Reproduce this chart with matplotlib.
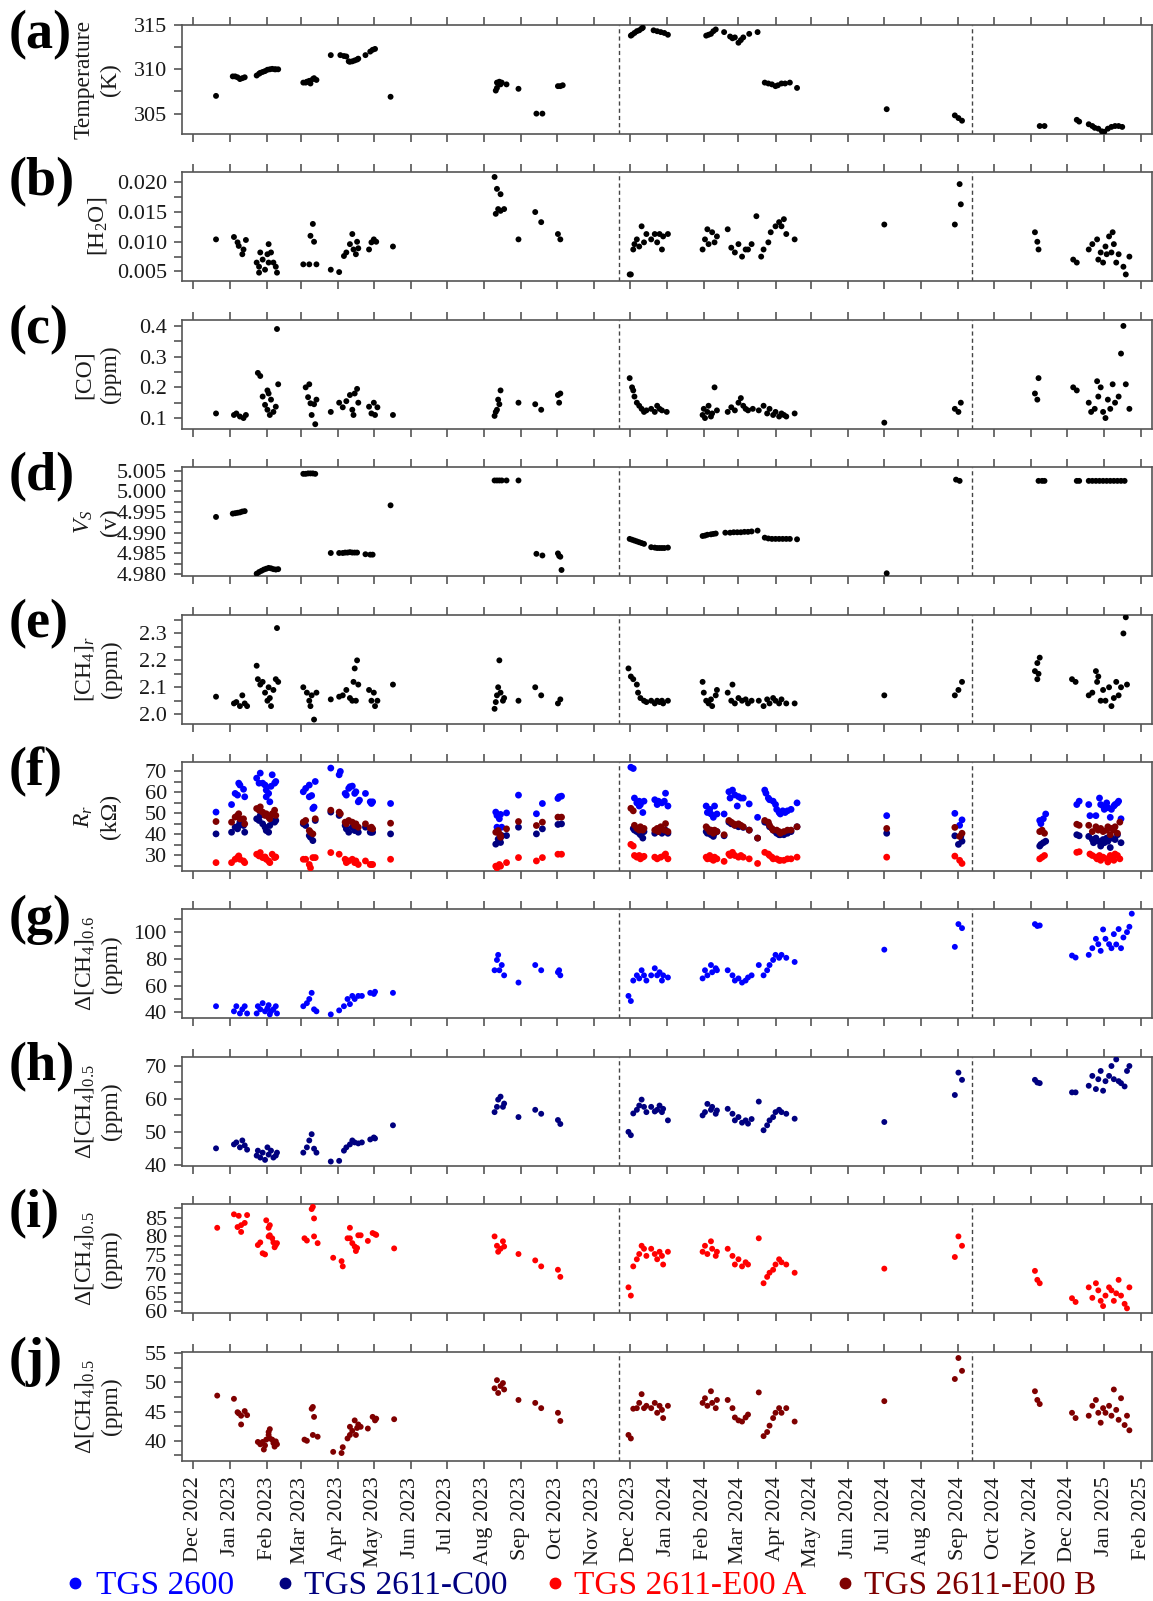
import matplotlib
matplotlib.use("Agg")
import matplotlib.pyplot as plt
import matplotlib.dates as mdates
import matplotlib.ticker as mticker
from matplotlib.lines import Line2D
from datetime import datetime

plt.rcParams['font.family'] = ['Liberation Serif', 'DejaVu Serif']
plt.rcParams['mathtext.fontset'] = 'custom'
plt.rcParams['mathtext.rm'] = 'Liberation Serif'
plt.rcParams['mathtext.it'] = 'Liberation Serif:italic'
plt.rcParams['mathtext.bf'] = 'Liberation Serif:bold'

# ---------------- data ----------------
TEMP = [
    ("2022-12-20", 307.0),
    ("2023-01-03", 309.2), ("2023-01-05", 309.2), ("2023-01-07", 309.1), ("2023-01-09", 308.9), ("2023-01-11", 309.0), ("2023-01-13", 309.1),
    ("2023-01-23", 309.3), ("2023-01-25", 309.5), ("2023-01-26", 309.6), ("2023-01-28", 309.7), ("2023-01-30", 309.8), ("2023-02-01", 309.95),
    ("2023-02-03", 310.0), ("2023-02-05", 310.05), ("2023-02-07", 310.0), ("2023-02-08", 310.0), ("2023-02-10", 310.0),
    ("2023-03-03", 308.5), ("2023-03-05", 308.5), ("2023-03-06", 308.6), ("2023-03-08", 308.7), ("2023-03-09", 308.4), ("2023-03-11", 308.9),
    ("2023-03-12", 309.0), ("2023-03-14", 308.8),
    ("2023-03-26", 311.6), ("2023-04-03", 311.6), ("2023-04-06", 311.5), ("2023-04-08", 311.45),
    ("2023-04-10", 310.9), ("2023-04-11", 310.85), ("2023-04-13", 310.9), ("2023-04-15", 311.0), ("2023-04-17", 311.1), ("2023-04-18", 311.2),
    ("2023-04-24", 311.6), ("2023-04-28", 312.0), ("2023-04-30", 312.2), ("2023-05-02", 312.3),
    ("2023-05-15", 306.9),
    ("2023-08-11", 307.6), ("2023-08-12", 307.9), ("2023-08-12", 308.5), ("2023-08-14", 308.6), ("2023-08-15", 308.3), ("2023-08-16", 308.5),
    ("2023-08-20", 308.3), ("2023-08-30", 307.8),
    ("2023-09-14", 305.0), ("2023-09-19", 305.0),
    ("2023-10-02", 308.1), ("2023-10-04", 308.1), ("2023-10-06", 308.2),
    ("2023-12-02", 313.8), ("2023-12-03", 313.9), ("2023-12-05", 314.1), ("2023-12-07", 314.3), ("2023-12-09", 314.4), ("2023-12-11", 314.6),
    ("2023-12-12", 314.7),
    ("2023-12-21", 314.4), ("2023-12-24", 314.3), ("2023-12-27", 314.2), ("2023-12-30", 314.1), ("2024-01-02", 313.9),
    ("2024-02-03", 313.8), ("2024-02-05", 313.9), ("2024-02-07", 314.0), ("2024-02-09", 314.3), ("2024-02-11", 314.5),
    ("2024-02-18", 314.2), ("2024-02-23", 313.7), ("2024-02-25", 313.5), ("2024-02-27", 313.6), ("2024-03-01", 313.0), ("2024-03-03", 313.3),
    ("2024-03-05", 313.6), ("2024-03-10", 314.0), ("2024-03-17", 314.2),
    ("2024-03-23", 308.5), ("2024-03-26", 308.4), ("2024-03-29", 308.3), ("2024-04-01", 308.1), ("2024-04-03", 308.2), ("2024-04-06", 308.4),
    ("2024-04-09", 308.4), ("2024-04-13", 308.5), ("2024-04-19", 307.9),
    ("2024-07-03", 305.5),
    ("2024-08-29", 304.8), ("2024-09-01", 304.5), ("2024-09-04", 304.2),
    ("2024-11-08", 303.6), ("2024-11-12", 303.6),
    ("2024-12-09", 304.3), ("2024-12-11", 304.1),
    ("2024-12-19", 303.8), ("2024-12-22", 303.6), ("2024-12-24", 303.4), ("2024-12-27", 303.3), ("2024-12-30", 303.0), ("2025-01-01", 302.95),
    ("2025-01-04", 303.3), ("2025-01-07", 303.5), ("2025-01-10", 303.6), ("2025-01-13", 303.6), ("2025-01-16", 303.5),
]

H2O = [
    ("2022-12-20", 0.0104),
    ("2023-01-04", 0.0108), ("2023-01-07", 0.0099), ("2023-01-08", 0.0093), ("2023-01-11", 0.0079), ("2023-01-12", 0.0087), ("2023-01-14", 0.0103),
    ("2023-01-23", 0.0065), ("2023-01-25", 0.0058), ("2023-01-25", 0.0048), ("2023-01-26", 0.0082), ("2023-01-28", 0.0070), ("2023-01-30", 0.0053),
    ("2023-02-01", 0.0079), ("2023-02-02", 0.0065), ("2023-02-02", 0.0096), ("2023-02-04", 0.0082), ("2023-02-06", 0.0065), ("2023-02-08", 0.0058),
    ("2023-02-09", 0.0048),
    ("2023-03-03", 0.0062), ("2023-03-08", 0.0062), ("2023-03-09", 0.0110), ("2023-03-11", 0.0130), ("2023-03-12", 0.0100), ("2023-03-14", 0.0062),
    ("2023-03-26", 0.0053), ("2023-04-02", 0.0049), ("2023-04-06", 0.0076), ("2023-04-08", 0.0082), ("2023-04-11", 0.0096), ("2023-04-13", 0.0113),
    ("2023-04-14", 0.0087), ("2023-04-16", 0.0079), ("2023-04-17", 0.0100), ("2023-04-18", 0.0089),
    ("2023-04-27", 0.0087), ("2023-04-29", 0.0099), ("2023-05-01", 0.0104), ("2023-05-03", 0.0100),
    ("2023-05-17", 0.0092),
    ("2023-08-10", 0.0209), ("2023-08-12", 0.0189), ("2023-08-15", 0.0180), ("2023-08-13", 0.0155), ("2023-08-11", 0.0147), ("2023-08-15", 0.0152),
    ("2023-08-18", 0.0155),
    ("2023-08-30", 0.0104),
    ("2023-09-13", 0.0150), ("2023-09-18", 0.0133),
    ("2023-10-02", 0.0113), ("2023-10-04", 0.0104),
    ("2023-12-01", 0.0045), ("2023-12-02", 0.0045), ("2023-12-04", 0.0087), ("2023-12-05", 0.0096), ("2023-12-07", 0.0104), ("2023-12-09", 0.0092),
    ("2023-12-11", 0.0126), ("2023-12-13", 0.0099), ("2023-12-15", 0.0113),
    ("2023-12-19", 0.0104), ("2023-12-22", 0.0113), ("2023-12-24", 0.0099), ("2023-12-26", 0.0113), ("2023-12-28", 0.0087), ("2023-12-29", 0.0109),
    ("2024-01-02", 0.0113),
    ("2024-01-31", 0.0087), ("2024-02-02", 0.0104), ("2024-02-04", 0.0121), ("2024-02-05", 0.0096), ("2024-02-08", 0.0116), ("2024-02-10", 0.0099),
    ("2024-02-12", 0.0109),
    ("2024-02-21", 0.0121), ("2024-02-24", 0.0090), ("2024-02-27", 0.0082), ("2024-03-01", 0.0096), ("2024-03-04", 0.0075), ("2024-03-07", 0.0087),
    ("2024-03-09", 0.0087), ("2024-03-12", 0.0096),
    ("2024-03-16", 0.0143), ("2024-03-20", 0.0075), ("2024-03-22", 0.0087), ("2024-03-26", 0.0099), ("2024-03-28", 0.0116), ("2024-04-01", 0.0126),
    ("2024-04-04", 0.0133), ("2024-04-06", 0.0126), ("2024-04-08", 0.0138), ("2024-04-10", 0.0113), ("2024-04-17", 0.0104),
    ("2024-07-01", 0.0129),
    ("2024-08-29", 0.0129), ("2024-09-02", 0.0197), ("2024-09-03", 0.0163),
    ("2024-11-04", 0.0116), ("2024-11-06", 0.0100), ("2024-11-07", 0.0087),
    ("2024-12-06", 0.0070), ("2024-12-09", 0.0065),
    ("2024-12-19", 0.0087), ("2024-12-22", 0.0096), ("2024-12-26", 0.0104), ("2024-12-27", 0.0070), ("2024-12-29", 0.0082), ("2024-12-31", 0.0065),
    ("2025-01-02", 0.0092), ("2025-01-03", 0.0079), ("2025-01-05", 0.0109), ("2025-01-07", 0.0082), ("2025-01-08", 0.0116), ("2025-01-09", 0.0096),
    ("2025-01-11", 0.0065), ("2025-01-13", 0.0079), ("2025-01-17", 0.0058), ("2025-01-19", 0.0045), ("2025-01-22", 0.0075),
]

CO = [
    ("2022-12-20", 0.115),
    ("2023-01-04", 0.110), ("2023-01-06", 0.115), ("2023-01-09", 0.105), ("2023-01-12", 0.100), ("2023-01-14", 0.110),
    ("2023-01-24", 0.247), ("2023-01-26", 0.237), ("2023-01-28", 0.170), ("2023-01-30", 0.143), ("2023-02-01", 0.190), ("2023-02-01", 0.127),
    ("2023-02-02", 0.180), ("2023-02-03", 0.110), ("2023-02-04", 0.160), ("2023-02-06", 0.120), ("2023-02-08", 0.137), ("2023-02-09", 0.390),
    ("2023-02-10", 0.210),
    ("2023-03-05", 0.200), ("2023-03-07", 0.168), ("2023-03-08", 0.210), ("2023-03-09", 0.148), ("2023-03-10", 0.110), ("2023-03-12", 0.145),
    ("2023-03-13", 0.080), ("2023-03-14", 0.160),
    ("2023-03-26", 0.120), ("2023-04-02", 0.150), ("2023-04-05", 0.135), ("2023-04-08", 0.155), ("2023-04-11", 0.175), ("2023-04-13", 0.127),
    ("2023-04-14", 0.110), ("2023-04-15", 0.180), ("2023-04-17", 0.195), ("2023-04-18", 0.150),
    ("2023-04-27", 0.137), ("2023-04-29", 0.115), ("2023-05-01", 0.150), ("2023-05-02", 0.110), ("2023-05-04", 0.135),
    ("2023-05-17", 0.110),
    ("2023-08-10", 0.107), ("2023-08-11", 0.120), ("2023-08-12", 0.127), ("2023-08-13", 0.160), ("2023-08-14", 0.145), ("2023-08-15", 0.190),
    ("2023-08-30", 0.150),
    ("2023-09-13", 0.145), ("2023-09-18", 0.127),
    ("2023-10-02", 0.175), ("2023-10-03", 0.150), ("2023-10-04", 0.180),
    ("2023-12-01", 0.230), ("2023-12-03", 0.200), ("2023-12-04", 0.190), ("2023-12-05", 0.170), ("2023-12-07", 0.150), ("2023-12-09", 0.140),
    ("2023-12-11", 0.130), ("2023-12-13", 0.120), ("2023-12-15", 0.125),
    ("2023-12-19", 0.130), ("2023-12-22", 0.120), ("2023-12-24", 0.140), ("2023-12-26", 0.130), ("2023-12-28", 0.125), ("2024-01-01", 0.120),
    ("2024-01-31", 0.110), ("2024-02-01", 0.130), ("2024-02-02", 0.100), ("2024-02-04", 0.120), ("2024-02-05", 0.140), ("2024-02-07", 0.105),
    ("2024-02-08", 0.115), ("2024-02-10", 0.200), ("2024-02-12", 0.125),
    ("2024-02-21", 0.120), ("2024-02-24", 0.135), ("2024-02-27", 0.125), ("2024-03-01", 0.150), ("2024-03-03", 0.165), ("2024-03-05", 0.140),
    ("2024-03-07", 0.130), ("2024-03-09", 0.125), ("2024-03-13", 0.130),
    ("2024-03-18", 0.125), ("2024-03-22", 0.140), ("2024-03-25", 0.115), ("2024-03-27", 0.130), ("2024-03-30", 0.110), ("2024-04-01", 0.120),
    ("2024-04-04", 0.105), ("2024-04-06", 0.115), ("2024-04-08", 0.110), ("2024-04-10", 0.105), ("2024-04-17", 0.115),
    ("2024-07-01", 0.085),
    ("2024-08-29", 0.130), ("2024-09-01", 0.120), ("2024-09-03", 0.150),
    ("2024-11-04", 0.180), ("2024-11-06", 0.160), ("2024-11-07", 0.230),
    ("2024-12-06", 0.200), ("2024-12-09", 0.190),
    ("2024-12-19", 0.150), ("2024-12-21", 0.120), ("2024-12-24", 0.130), ("2024-12-26", 0.220), ("2024-12-27", 0.170), ("2024-12-29", 0.200),
    ("2024-12-31", 0.120), ("2025-01-02", 0.100), ("2025-01-04", 0.160), ("2025-01-06", 0.130), ("2025-01-08", 0.210), ("2025-01-10", 0.150),
    ("2025-01-13", 0.170), ("2025-01-15", 0.310), ("2025-01-17", 0.400), ("2025-01-19", 0.210), ("2025-01-22", 0.130),
]

VS = [
    ("2022-12-20", 4.9938),
    ("2023-01-03", 4.9946), ("2023-01-05", 4.9947), ("2023-01-07", 4.9948), ("2023-01-09", 4.9949), ("2023-01-11", 4.9951), ("2023-01-13", 4.9952),
    ("2023-01-23", 4.9801), ("2023-01-25", 4.9805), ("2023-01-27", 4.9808), ("2023-01-29", 4.9811), ("2023-01-31", 4.9813), ("2023-02-02", 4.9815),
    ("2023-02-04", 4.9814), ("2023-02-06", 4.9812), ("2023-02-08", 4.9811), ("2023-02-10", 4.9812),
    ("2023-03-03", 5.0042), ("2023-03-05", 5.0042), ("2023-03-07", 5.0043), ("2023-03-09", 5.0043), ("2023-03-11", 5.0043), ("2023-03-13", 5.0042),
    ("2023-03-26", 4.9851),
    ("2023-04-02", 4.9851), ("2023-04-05", 4.9851), ("2023-04-07", 4.9852), ("2023-04-09", 4.9852), ("2023-04-11", 4.9853), ("2023-04-13", 4.9852),
    ("2023-04-15", 4.9852), ("2023-04-17", 4.9852),
    ("2023-04-24", 4.9848), ("2023-04-28", 4.9847), ("2023-04-30", 4.9847),
    ("2023-05-15", 4.9966),
    ("2023-08-10", 5.0026), ("2023-08-12", 5.0026), ("2023-08-14", 5.0026), ("2023-08-16", 5.0026), ("2023-08-20", 5.0026),
    ("2023-08-30", 5.0026),
    ("2023-09-14", 4.9849), ("2023-09-19", 4.9845),
    ("2023-10-02", 4.9850), ("2023-10-03", 4.9844), ("2023-10-04", 4.9842), ("2023-10-05", 4.9810),
    ("2023-12-01", 4.9885), ("2023-12-03", 4.9883), ("2023-12-05", 4.9881), ("2023-12-07", 4.9879), ("2023-12-09", 4.9877), ("2023-12-11", 4.9875),
    ("2023-12-13", 4.9873),
    ("2023-12-19", 4.9865), ("2023-12-22", 4.9864), ("2023-12-24", 4.9863), ("2023-12-26", 4.9863), ("2023-12-28", 4.9863), ("2023-12-30", 4.9863),
    ("2024-01-02", 4.9864),
    ("2024-01-31", 4.9892), ("2024-02-02", 4.9893), ("2024-02-04", 4.9895), ("2024-02-07", 4.9896), ("2024-02-09", 4.9897), ("2024-02-11", 4.9898),
    ("2024-02-19", 4.9900), ("2024-02-23", 4.9900), ("2024-02-26", 4.9901), ("2024-02-29", 4.9901), ("2024-03-03", 4.9901), ("2024-03-06", 4.9902),
    ("2024-03-09", 4.9902), ("2024-03-12", 4.9903), ("2024-03-17", 4.9905),
    ("2024-03-23", 4.9888), ("2024-03-26", 4.9886), ("2024-03-29", 4.9885), ("2024-04-01", 4.9885), ("2024-04-04", 4.9885), ("2024-04-07", 4.9885),
    ("2024-04-10", 4.9885), ("2024-04-13", 4.9885), ("2024-04-19", 4.9884),
    ("2024-07-03", 4.9802),
    ("2024-08-30", 5.0028), ("2024-09-02", 5.0025),
    ("2024-11-07", 5.0025), ("2024-11-10", 5.0025), ("2024-11-12", 5.0025),
    ("2024-12-09", 5.0025), ("2024-12-11", 5.0025),
    ("2024-12-19", 5.0025), ("2024-12-22", 5.0025), ("2024-12-25", 5.0025), ("2024-12-28", 5.0025), ("2024-12-31", 5.0025), ("2025-01-03", 5.0025),
    ("2025-01-06", 5.0025), ("2025-01-09", 5.0025), ("2025-01-12", 5.0025), ("2025-01-15", 5.0025), ("2025-01-18", 5.0025),
]

CH4R = [
    ("2022-12-20", 2.065),
    ("2023-01-04", 2.04), ("2023-01-06", 2.045), ("2023-01-09", 2.03), ("2023-01-11", 2.07), ("2023-01-13", 2.04), ("2023-01-15", 2.03),
    ("2023-01-23", 2.18), ("2023-01-24", 2.13), ("2023-01-26", 2.11), ("2023-01-28", 2.12), ("2023-01-30", 2.08), ("2023-02-01", 2.05),
    ("2023-02-02", 2.10), ("2023-02-03", 2.06), ("2023-02-04", 2.03), ("2023-02-06", 2.09), ("2023-02-08", 2.13), ("2023-02-09", 2.32),
    ("2023-02-10", 2.12),
    ("2023-03-03", 2.10), ("2023-03-06", 2.08), ("2023-03-08", 2.05), ("2023-03-09", 2.03), ("2023-03-10", 2.07), ("2023-03-12", 1.98),
    ("2023-03-14", 2.08),
    ("2023-03-26", 2.055), ("2023-04-02", 2.065), ("2023-04-05", 2.07), ("2023-04-08", 2.09), ("2023-04-11", 2.06), ("2023-04-13", 2.05),
    ("2023-04-14", 2.12), ("2023-04-15", 2.17), ("2023-04-16", 2.05), ("2023-04-17", 2.20), ("2023-04-18", 2.11),
    ("2023-04-27", 2.09), ("2023-04-29", 2.05), ("2023-05-01", 2.08), ("2023-05-02", 2.03), ("2023-05-04", 2.05),
    ("2023-05-17", 2.11),
    ("2023-08-10", 2.02), ("2023-08-11", 2.045), ("2023-08-12", 2.07), ("2023-08-13", 2.10), ("2023-08-14", 2.20), ("2023-08-15", 2.08),
    ("2023-08-17", 2.05), ("2023-08-18", 2.06),
    ("2023-08-30", 2.05),
    ("2023-09-13", 2.10), ("2023-09-18", 2.07),
    ("2023-10-02", 2.04), ("2023-10-04", 2.055),
    ("2023-11-30", 2.17), ("2023-12-02", 2.14), ("2023-12-04", 2.13), ("2023-12-07", 2.11), ("2023-12-08", 2.08), ("2023-12-10", 2.06),
    ("2023-12-13", 2.05), ("2023-12-15", 2.045),
    ("2023-12-19", 2.05), ("2023-12-22", 2.04), ("2023-12-24", 2.05), ("2023-12-26", 2.045), ("2023-12-28", 2.05), ("2023-12-29", 2.04),
    ("2024-01-02", 2.05),
    ("2024-01-31", 2.12), ("2024-02-01", 2.08), ("2024-02-03", 2.05), ("2024-02-05", 2.04), ("2024-02-07", 2.055), ("2024-02-08", 2.03),
    ("2024-02-11", 2.07), ("2024-02-12", 2.09),
    ("2024-02-21", 2.08), ("2024-02-24", 2.05), ("2024-02-25", 2.11), ("2024-02-27", 2.04), ("2024-03-01", 2.06), ("2024-03-04", 2.05),
    ("2024-03-07", 2.055), ("2024-03-09", 2.04), ("2024-03-12", 2.05),
    ("2024-03-18", 2.05), ("2024-03-22", 2.03), ("2024-03-25", 2.055), ("2024-03-27", 2.04), ("2024-03-30", 2.06), ("2024-04-01", 2.05),
    ("2024-04-04", 2.04), ("2024-04-06", 2.055), ("2024-04-10", 2.04), ("2024-04-17", 2.04),
    ("2024-07-01", 2.07),
    ("2024-08-29", 2.07), ("2024-09-01", 2.09), ("2024-09-04", 2.12),
    ("2024-11-04", 2.16), ("2024-11-06", 2.19), ("2024-11-06", 2.13), ("2024-11-07", 2.15), ("2024-11-08", 2.21),
    ("2024-12-05", 2.13), ("2024-12-08", 2.12),
    ("2024-12-19", 2.07), ("2024-12-22", 2.08), ("2024-12-25", 2.16), ("2024-12-26", 2.12), ("2024-12-27", 2.14), ("2024-12-29", 2.05),
    ("2024-12-31", 2.09), ("2025-01-02", 2.05), ("2025-01-05", 2.10), ("2025-01-07", 2.03), ("2025-01-09", 2.06), ("2025-01-11", 2.12),
    ("2025-01-13", 2.07), ("2025-01-15", 2.10), ("2025-01-17", 2.30), ("2025-01-19", 2.36), ("2025-01-20", 2.11),
]

R_2600 = [
    ("2022-12-20", 50.6),
    ("2023-01-02", 54.2), ("2023-01-05", 59.5), ("2023-01-07", 58.7), ("2023-01-08", 64.4), ("2023-01-09", 63.5), ("2023-01-12", 61.5),
    ("2023-01-13", 57.9),
    ("2023-01-23", 66.8), ("2023-01-25", 64.4), ("2023-01-26", 69.2), ("2023-01-28", 64.4), ("2023-01-30", 63.5), ("2023-01-31", 61.1),
    ("2023-01-31", 57.9), ("2023-02-02", 59.5), ("2023-02-03", 55.5), ("2023-02-04", 62.9), ("2023-02-05", 68.4), ("2023-02-07", 64.4),
    ("2023-02-08", 65.2),
    ("2023-03-03", 60.3), ("2023-03-05", 61.9), ("2023-03-08", 63.5), ("2023-03-08", 57.9), ("2023-03-10", 58.5), ("2023-03-11", 52.3),
    ("2023-03-12", 53.0), ("2023-03-13", 65.2),
    ("2023-03-26", 71.6), ("2023-04-02", 68.4), ("2023-04-03", 70.0), ("2023-04-07", 59.5), ("2023-04-08", 58.7), ("2023-04-10", 61.9),
    ("2023-04-11", 62.7), ("2023-04-13", 63.0), ("2023-04-15", 59.5), ("2023-04-16", 60.3), ("2023-04-18", 55.5), ("2023-04-19", 56.3),
    ("2023-04-24", 59.5), ("2023-04-28", 55.5), ("2023-04-29", 54.7), ("2023-04-30", 55.5),
    ("2023-05-15", 54.7),
    ("2023-08-11", 50.6), ("2023-08-12", 49.0), ("2023-08-12", 43.4), ("2023-08-14", 47.4), ("2023-08-15", 49.5), ("2023-08-16", 43.4),
    ("2023-08-20", 50.2),
    ("2023-08-30", 58.7),
    ("2023-09-14", 49.8), ("2023-09-19", 54.7),
    ("2023-10-02", 57.1), ("2023-10-03", 57.9), ("2023-10-05", 58.2),
    ("2023-12-02", 72.0), ("2023-12-04", 71.4),
    ("2023-12-05", 57.3), ("2023-12-07", 55.0), ("2023-12-09", 55.8), ("2023-12-09", 53.5), ("2023-12-10", 54.2), ("2023-12-12", 50.4),
    ("2023-12-13", 55.8),
    ("2023-12-22", 56.5), ("2023-12-24", 54.2), ("2023-12-25", 55.8), ("2023-12-28", 55.0), ("2023-12-30", 55.8), ("2023-12-31", 59.6),
    ("2024-01-02", 53.5),
    ("2024-02-03", 53.5), ("2024-02-04", 50.4), ("2024-02-06", 51.9), ("2024-02-07", 49.7), ("2024-02-09", 48.1), ("2024-02-10", 53.5),
    ("2024-02-12", 49.7),
    ("2024-02-18", 49.7), ("2024-02-22", 60.3), ("2024-02-23", 57.3), ("2024-02-25", 61.1), ("2024-02-27", 58.8), ("2024-02-29", 53.5),
    ("2024-03-01", 58.0), ("2024-03-03", 57.3), ("2024-03-05", 57.3), ("2024-03-10", 54.5),
    ("2024-03-17", 48.1), ("2024-03-23", 61.1), ("2024-03-24", 59.6), ("2024-03-26", 57.3), ("2024-03-27", 56.5), ("2024-03-30", 55.8),
    ("2024-04-01", 54.2), ("2024-04-02", 51.9), ("2024-04-04", 50.4), ("2024-04-05", 49.7), ("2024-04-07", 51.2), ("2024-04-09", 50.4),
    ("2024-04-11", 51.2), ("2024-04-14", 51.9), ("2024-04-19", 55.0),
    ("2024-07-03", 48.9),
    ("2024-08-29", 50.0), ("2024-09-02", 44.3), ("2024-09-04", 46.9),
    ("2024-11-08", 46.6), ("2024-11-09", 45.1), ("2024-11-11", 47.4), ("2024-11-13", 49.7),
    ("2024-12-09", 54.2), ("2024-12-11", 55.8),
    ("2024-12-19", 54.2), ("2024-12-20", 48.9), ("2024-12-25", 48.9), ("2024-12-28", 57.3), ("2024-12-29", 54.2), ("2024-12-31", 53.5),
    ("2025-01-01", 51.9), ("2025-01-03", 55.0), ("2025-01-04", 52.7), ("2025-01-06", 48.1), ("2025-01-07", 51.9), ("2025-01-09", 53.5),
    ("2025-01-10", 54.2), ("2025-01-12", 55.0), ("2025-01-13", 55.8), ("2025-01-15", 47.4),
]

R_2611C = [
    ("2022-12-20", 40.2),
    ("2023-01-02", 41.0), ("2023-01-05", 43.4), ("2023-01-07", 42.6), ("2023-01-08", 44.2), ("2023-01-09", 45.8), ("2023-01-12", 44.2),
    ("2023-01-13", 41.0),
    ("2023-01-23", 47.4), ("2023-01-25", 46.6), ("2023-01-26", 49.0), ("2023-01-28", 45.0), ("2023-01-30", 43.4), ("2023-01-31", 41.8),
    ("2023-02-02", 41.0), ("2023-02-03", 44.2), ("2023-02-05", 46.6), ("2023-02-07", 45.8), ("2023-02-08", 46.6),
    ("2023-03-03", 45.0), ("2023-03-05", 44.2), ("2023-03-08", 39.4), ("2023-03-09", 38.6), ("2023-03-11", 37.0), ("2023-03-13", 46.6),
    ("2023-03-26", 50.6), ("2023-04-02", 49.0), ("2023-04-07", 44.2), ("2023-04-08", 42.6), ("2023-04-10", 41.0), ("2023-04-13", 43.4),
    ("2023-04-15", 41.8), ("2023-04-16", 42.6), ("2023-04-18", 41.0),
    ("2023-04-24", 43.4), ("2023-04-28", 41.0), ("2023-04-29", 41.0), ("2023-04-30", 41.0),
    ("2023-05-15", 40.2),
    ("2023-08-11", 35.3), ("2023-08-13", 37.7), ("2023-08-15", 36.1), ("2023-08-15", 38.5), ("2023-08-16", 39.4), ("2023-08-20", 39.4),
    ("2023-08-30", 43.4),
    ("2023-09-14", 40.2), ("2023-09-19", 42.6),
    ("2023-10-02", 44.7), ("2023-10-05", 45.0),
    ("2023-12-04", 42.8), ("2023-12-05", 42.0), ("2023-12-07", 41.3), ("2023-12-09", 40.5), ("2023-12-10", 39.8), ("2023-12-12", 38.2),
    ("2023-12-13", 41.3),
    ("2023-12-22", 40.5), ("2023-12-24", 41.3), ("2023-12-25", 42.0), ("2023-12-28", 40.5), ("2023-12-30", 41.3), ("2023-12-31", 42.0),
    ("2024-01-02", 40.5),
    ("2024-02-03", 41.3), ("2024-02-04", 40.5), ("2024-02-06", 42.0), ("2024-02-07", 39.8), ("2024-02-09", 39.0), ("2024-02-10", 40.5),
    ("2024-02-12", 41.3),
    ("2024-02-18", 39.3), ("2024-02-22", 45.8), ("2024-02-24", 45.0), ("2024-02-27", 44.3), ("2024-03-01", 43.6), ("2024-03-05", 43.3),
    ("2024-03-10", 42.0),
    ("2024-03-17", 38.2), ("2024-03-23", 45.8), ("2024-03-26", 45.0), ("2024-03-27", 43.6), ("2024-03-30", 42.0), ("2024-04-01", 41.3),
    ("2024-04-02", 40.5), ("2024-04-04", 39.8), ("2024-04-05", 39.8), ("2024-04-08", 39.8), ("2024-04-11", 40.5), ("2024-04-14", 41.3),
    ("2024-04-19", 43.6),
    ("2024-07-03", 40.5),
    ("2024-08-29", 39.3), ("2024-09-01", 35.2), ("2024-09-03", 39.0), ("2024-09-04", 36.7),
    ("2024-11-08", 34.4), ("2024-11-09", 35.2), ("2024-11-11", 36.0), ("2024-11-13", 36.7),
    ("2024-12-09", 39.8), ("2024-12-11", 39.3),
    ("2024-12-19", 39.0), ("2024-12-22", 37.5), ("2024-12-23", 36.0), ("2024-12-25", 38.2), ("2024-12-27", 36.7), ("2024-12-29", 34.4),
    ("2024-12-31", 37.5), ("2025-01-01", 36.0), ("2025-01-03", 38.2), ("2025-01-04", 36.7), ("2025-01-06", 33.7), ("2025-01-07", 38.2),
    ("2025-01-10", 37.5), ("2025-01-12", 39.8), ("2025-01-15", 36.0),
]

R_2611EB = [
    ("2022-12-20", 46.1),
    ("2023-01-02", 45.8), ("2023-01-05", 48.2), ("2023-01-07", 49.0), ("2023-01-08", 49.8), ("2023-01-09", 47.4), ("2023-01-12", 47.4),
    ("2023-01-13", 45.0),
    ("2023-01-23", 52.3), ("2023-01-25", 51.5), ("2023-01-26", 53.1), ("2023-01-28", 50.6), ("2023-01-30", 49.0), ("2023-01-31", 49.8),
    ("2023-02-02", 48.2), ("2023-02-03", 47.4), ("2023-02-05", 49.8), ("2023-02-07", 51.5), ("2023-02-08", 49.0),
    ("2023-03-03", 45.8), ("2023-03-05", 46.6), ("2023-03-08", 41.8), ("2023-03-09", 41.0), ("2023-03-11", 40.2), ("2023-03-13", 47.4),
    ("2023-03-26", 51.5), ("2023-04-02", 50.6), ("2023-04-03", 49.8), ("2023-04-07", 45.8), ("2023-04-08", 45.0), ("2023-04-10", 46.6),
    ("2023-04-13", 45.8), ("2023-04-15", 44.2), ("2023-04-16", 45.0), ("2023-04-18", 43.4),
    ("2023-04-24", 45.0), ("2023-04-28", 43.0), ("2023-04-29", 43.4), ("2023-04-30", 42.6),
    ("2023-05-15", 45.3),
    ("2023-08-11", 41.0), ("2023-08-13", 41.8), ("2023-08-14", 40.2), ("2023-08-15", 39.4), ("2023-08-15", 38.6), ("2023-08-20", 42.6),
    ("2023-08-30", 46.1),
    ("2023-09-14", 44.2), ("2023-09-19", 45.8),
    ("2023-10-02", 48.2), ("2023-10-05", 48.2),
    ("2023-12-02", 52.4), ("2023-12-04", 51.2),
    ("2023-12-05", 44.3), ("2023-12-07", 42.8), ("2023-12-09", 42.0), ("2023-12-10", 43.6), ("2023-12-12", 42.0), ("2023-12-13", 42.8),
    ("2023-12-22", 42.0), ("2023-12-24", 42.8), ("2023-12-25", 41.3), ("2023-12-27", 43.6), ("2023-12-30", 42.0), ("2023-12-31", 45.1),
    ("2024-01-02", 41.3),
    ("2024-02-03", 43.6), ("2024-02-04", 42.8), ("2024-02-06", 41.3), ("2024-02-07", 42.0), ("2024-02-09", 40.5), ("2024-02-10", 42.0),
    ("2024-02-12", 41.3),
    ("2024-02-18", 39.8), ("2024-02-22", 46.6), ("2024-02-24", 45.8), ("2024-02-26", 45.0), ("2024-02-27", 44.3), ("2024-03-01", 45.0),
    ("2024-03-03", 44.3), ("2024-03-05", 43.6), ("2024-03-10", 42.0),
    ("2024-03-17", 38.2), ("2024-03-23", 46.6), ("2024-03-26", 45.8), ("2024-03-27", 44.3), ("2024-03-29", 42.8), ("2024-03-30", 42.0),
    ("2024-04-02", 42.0), ("2024-04-04", 41.3), ("2024-04-05", 40.5), ("2024-04-08", 41.3), ("2024-04-11", 42.0), ("2024-04-14", 42.0),
    ("2024-04-19", 43.6),
    ("2024-07-03", 42.8),
    ("2024-08-29", 43.3), ("2024-09-02", 39.0), ("2024-09-04", 40.5),
    ("2024-11-08", 41.3), ("2024-11-10", 42.0), ("2024-11-12", 40.5),
    ("2024-12-09", 44.8), ("2024-12-11", 44.3),
    ("2024-12-19", 44.3), ("2024-12-22", 41.3), ("2024-12-25", 43.6), ("2024-12-27", 42.0), ("2024-12-29", 42.8), ("2024-12-31", 41.3),
    ("2025-01-03", 42.0), ("2025-01-04", 43.6), ("2025-01-06", 39.8), ("2025-01-07", 42.8), ("2025-01-09", 42.0), ("2025-01-10", 43.6),
    ("2025-01-12", 40.5), ("2025-01-14", 45.8),
]

R_2611EA = [
    ("2022-12-20", 26.5),
    ("2023-01-02", 26.5), ("2023-01-05", 28.1), ("2023-01-07", 28.9), ("2023-01-08", 29.7), ("2023-01-09", 28.1), ("2023-01-12", 27.3),
    ("2023-01-13", 26.5),
    ("2023-01-23", 30.5), ("2023-01-25", 29.7), ("2023-01-26", 31.3), ("2023-01-28", 28.9), ("2023-01-30", 29.2), ("2023-01-31", 28.1),
    ("2023-02-02", 27.3), ("2023-02-03", 26.5), ("2023-02-05", 30.5), ("2023-02-07", 28.9), ("2023-02-08", 29.2),
    ("2023-03-03", 28.1), ("2023-03-05", 28.1), ("2023-03-08", 25.6), ("2023-03-09", 24.0), ("2023-03-11", 28.9), ("2023-03-13", 28.9),
    ("2023-03-26", 31.3), ("2023-04-02", 30.5), ("2023-04-07", 28.1), ("2023-04-08", 26.5), ("2023-04-10", 27.3), ("2023-04-13", 28.1),
    ("2023-04-15", 26.5), ("2023-04-16", 27.3), ("2023-04-18", 25.6),
    ("2023-04-24", 27.3), ("2023-04-28", 25.6), ("2023-04-29", 25.6), ("2023-04-30", 25.6),
    ("2023-05-15", 28.1),
    ("2023-08-11", 24.8), ("2023-08-12", 24.0), ("2023-08-14", 25.6), ("2023-08-15", 24.8), ("2023-08-20", 26.5),
    ("2023-08-30", 28.9),
    ("2023-09-14", 27.3), ("2023-09-19", 28.9),
    ("2023-10-02", 30.5), ("2023-10-05", 30.5),
    ("2023-12-02", 35.2), ("2023-12-04", 34.4),
    ("2023-12-05", 29.9), ("2023-12-07", 29.1), ("2023-12-09", 29.9), ("2023-12-10", 28.3), ("2023-12-12", 29.1), ("2023-12-13", 29.5),
    ("2023-12-22", 29.1), ("2023-12-24", 28.3), ("2023-12-27", 29.1), ("2023-12-30", 29.9), ("2023-12-31", 30.6), ("2024-01-02", 28.3),
    ("2024-02-03", 29.1), ("2024-02-04", 28.3), ("2024-02-06", 29.9), ("2024-02-07", 28.3), ("2024-02-09", 27.6), ("2024-02-10", 29.1),
    ("2024-02-12", 28.3),
    ("2024-02-18", 27.1), ("2024-02-22", 30.6), ("2024-02-23", 29.9), ("2024-02-25", 31.4), ("2024-02-27", 29.9), ("2024-03-01", 29.1),
    ("2024-03-03", 29.9), ("2024-03-05", 29.1), ("2024-03-10", 28.3),
    ("2024-03-17", 26.1), ("2024-03-23", 31.4), ("2024-03-26", 30.6), ("2024-03-27", 29.9), ("2024-03-29", 29.1), ("2024-03-30", 28.3),
    ("2024-04-02", 28.3), ("2024-04-04", 27.6), ("2024-04-05", 27.6), ("2024-04-08", 27.6), ("2024-04-11", 28.3), ("2024-04-14", 28.3),
    ("2024-04-19", 29.1),
    ("2024-07-03", 29.1),
    ("2024-08-29", 29.6), ("2024-09-02", 27.6), ("2024-09-04", 26.1),
    ("2024-11-08", 28.3), ("2024-11-10", 29.1), ("2024-11-12", 29.9),
    ("2024-12-09", 31.4), ("2024-12-11", 31.7),
    ("2024-12-20", 30.6), ("2024-12-22", 29.9), ("2024-12-25", 29.1), ("2024-12-26", 28.3), ("2024-12-28", 29.9), ("2024-12-29", 27.6),
    ("2024-12-31", 29.1), ("2025-01-03", 28.3), ("2025-01-04", 26.8), ("2025-01-06", 29.9), ("2025-01-07", 28.3), ("2025-01-09", 27.6),
    ("2025-01-10", 30.6), ("2025-01-12", 29.9), ("2025-01-14", 28.3),
]

DCH4_2600 = [
    ("2022-12-20", 44.6),
    ("2023-01-04", 40.8), ("2023-01-06", 44.6), ("2023-01-09", 39.2), ("2023-01-11", 42.3), ("2023-01-13", 44.6), ("2023-01-15", 39.2),
    ("2023-01-23", 39.2), ("2023-01-24", 44.6), ("2023-01-26", 42.3), ("2023-01-28", 46.9), ("2023-01-30", 40.8), ("2023-02-01", 43.1),
    ("2023-02-02", 45.4), ("2023-02-03", 38.5), ("2023-02-04", 40.8), ("2023-02-06", 42.3), ("2023-02-08", 44.6), ("2023-02-09", 39.2),
    ("2023-03-03", 44.6), ("2023-03-06", 46.9), ("2023-03-08", 50.0), ("2023-03-10", 54.6), ("2023-03-12", 42.3), ("2023-03-14", 40.8),
    ("2023-03-26", 38.5), ("2023-04-02", 41.5), ("2023-04-06", 44.6), ("2023-04-09", 50.0), ("2023-04-11", 46.2), ("2023-04-13", 52.3),
    ("2023-04-15", 50.0), ("2023-04-18", 52.3), ("2023-04-21", 52.3),
    ("2023-04-28", 54.6), ("2023-05-01", 53.8), ("2023-05-02", 55.4),
    ("2023-05-17", 54.6),
    ("2023-08-10", 71.5), ("2023-08-12", 79.2), ("2023-08-13", 83.0), ("2023-08-14", 71.5), ("2023-08-16", 75.4), ("2023-08-18", 67.7),
    ("2023-08-30", 62.3),
    ("2023-09-13", 75.4), ("2023-09-18", 71.5),
    ("2023-10-02", 70.0), ("2023-10-03", 71.5), ("2023-10-04", 67.7),
    ("2023-11-30", 52.3), ("2023-12-02", 48.5), ("2023-12-04", 63.8), ("2023-12-07", 67.7), ("2023-12-09", 65.4), ("2023-12-11", 71.5),
    ("2023-12-13", 67.7), ("2023-12-15", 63.8),
    ("2023-12-19", 67.7), ("2023-12-22", 73.0), ("2023-12-24", 67.7), ("2023-12-26", 70.0), ("2023-12-28", 63.8), ("2023-12-29", 67.7),
    ("2024-01-02", 66.1),
    ("2024-01-31", 65.4), ("2024-02-02", 71.5), ("2024-02-04", 67.7), ("2024-02-07", 75.4), ("2024-02-08", 70.0), ("2024-02-11", 73.0),
    ("2024-02-12", 71.5),
    ("2024-02-21", 71.5), ("2024-02-25", 67.7), ("2024-02-27", 63.8), ("2024-03-01", 65.4), ("2024-03-04", 62.3), ("2024-03-07", 63.8),
    ("2024-03-09", 66.1), ("2024-03-12", 67.7),
    ("2024-03-18", 75.4), ("2024-03-22", 67.7), ("2024-03-25", 71.5), ("2024-03-27", 75.4), ("2024-03-30", 79.2), ("2024-04-01", 83.0),
    ("2024-04-04", 80.8), ("2024-04-06", 83.0), ("2024-04-10", 80.8), ("2024-04-17", 77.7),
    ("2024-07-01", 86.9),
    ("2024-08-29", 89.0), ("2024-09-01", 106.0), ("2024-09-04", 103.0),
    ("2024-11-04", 106.0), ("2024-11-06", 104.6), ("2024-11-08", 105.0),
    ("2024-12-05", 82.5), ("2024-12-08", 81.0),
    ("2024-12-19", 83.0), ("2024-12-22", 88.0), ("2024-12-25", 95.0), ("2024-12-27", 91.0), ("2024-12-29", 86.0), ("2024-12-31", 102.0),
    ("2025-01-02", 95.0), ("2025-01-05", 91.0), ("2025-01-07", 88.0), ("2025-01-09", 98.5), ("2025-01-11", 90.8), ("2025-01-13", 102.3),
    ("2025-01-15", 88.0), ("2025-01-17", 96.0), ("2025-01-20", 100.0), ("2025-01-22", 104.0), ("2025-01-24", 113.8),
]

DCH4_2611C = [
    ("2022-12-20", 45.0),
    ("2023-01-04", 46.2), ("2023-01-06", 46.8), ("2023-01-09", 45.3), ("2023-01-11", 47.4), ("2023-01-13", 45.9), ("2023-01-15", 44.6),
    ("2023-01-23", 42.8), ("2023-01-24", 44.3), ("2023-01-26", 42.2), ("2023-01-28", 43.7), ("2023-01-30", 41.5), ("2023-02-01", 45.3),
    ("2023-02-02", 43.1), ("2023-02-04", 44.3), ("2023-02-06", 42.2), ("2023-02-08", 42.8), ("2023-02-09", 43.7),
    ("2023-03-03", 43.7), ("2023-03-06", 45.3), ("2023-03-08", 47.4), ("2023-03-10", 49.3), ("2023-03-12", 44.9), ("2023-03-14", 43.7),
    ("2023-03-26", 41.0), ("2023-04-02", 41.2), ("2023-04-06", 44.3), ("2023-04-08", 45.3), ("2023-04-11", 46.2), ("2023-04-13", 47.4),
    ("2023-04-15", 46.8), ("2023-04-18", 46.5), ("2023-04-21", 46.8),
    ("2023-04-28", 47.7), ("2023-05-01", 48.3), ("2023-05-02", 48.0),
    ("2023-05-17", 52.0),
    ("2023-08-10", 56.0), ("2023-08-12", 57.6), ("2023-08-13", 59.8), ("2023-08-15", 60.7), ("2023-08-17", 57.6), ("2023-08-18", 58.6),
    ("2023-08-30", 54.5),
    ("2023-09-13", 56.7), ("2023-09-18", 55.5),
    ("2023-10-02", 53.6), ("2023-10-04", 52.4),
    ("2023-11-30", 50.0), ("2023-12-02", 49.0), ("2023-12-04", 55.6), ("2023-12-07", 56.7), ("2023-12-09", 58.0), ("2023-12-11", 59.8),
    ("2023-12-13", 57.6), ("2023-12-15", 56.0),
    ("2023-12-19", 57.6), ("2023-12-22", 56.2), ("2023-12-24", 56.7), ("2023-12-26", 58.0), ("2023-12-28", 56.0), ("2023-12-29", 57.0),
    ("2024-01-02", 53.5),
    ("2024-01-31", 55.0), ("2024-02-02", 56.0), ("2024-02-04", 58.5), ("2024-02-07", 56.7), ("2024-02-08", 57.6), ("2024-02-11", 55.5),
    ("2024-02-12", 56.5),
    ("2024-02-21", 57.0), ("2024-02-25", 55.5), ("2024-02-27", 53.5), ("2024-03-01", 54.5), ("2024-03-04", 52.8), ("2024-03-07", 53.5),
    ("2024-03-09", 52.5), ("2024-03-12", 53.9),
    ("2024-03-18", 59.2), ("2024-03-22", 50.5), ("2024-03-25", 52.0), ("2024-03-27", 53.5), ("2024-03-30", 54.5), ("2024-04-01", 56.0),
    ("2024-04-04", 56.7), ("2024-04-06", 56.0), ("2024-04-10", 55.5), ("2024-04-17", 54.0),
    ("2024-07-01", 53.0),
    ("2024-08-29", 61.2), ("2024-09-01", 68.0), ("2024-09-04", 65.8),
    ("2024-11-04", 65.8), ("2024-11-06", 65.0), ("2024-11-08", 64.8),
    ("2024-12-05", 62.0), ("2024-12-08", 62.0),
    ("2024-12-19", 64.0), ("2024-12-22", 67.0), ("2024-12-25", 63.0), ("2024-12-27", 66.0), ("2024-12-29", 68.5), ("2024-12-31", 62.5),
    ("2025-01-02", 65.4), ("2025-01-05", 67.0), ("2025-01-07", 70.0), ("2025-01-09", 66.0), ("2025-01-11", 72.0), ("2025-01-13", 65.4),
    ("2025-01-15", 64.8), ("2025-01-18", 63.8), ("2025-01-20", 68.5), ("2025-01-22", 70.0),
]

DCH4_2611EA = [
    ("2022-12-21", 82.3),
    ("2023-01-04", 85.9), ("2023-01-07", 82.5), ("2023-01-08", 85.5), ("2023-01-10", 83.0), ("2023-01-10", 81.2), ("2023-01-13", 83.6),
    ("2023-01-15", 85.7),
    ("2023-01-24", 77.7), ("2023-01-26", 78.4), ("2023-01-28", 75.5), ("2023-01-30", 75.2), ("2023-01-31", 84.3), ("2023-02-02", 80.0),
    ("2023-02-02", 82.3), ("2023-02-03", 83.0), ("2023-02-03", 80.3), ("2023-02-05", 79.5), ("2023-02-06", 78.4), ("2023-02-07", 77.1),
    ("2023-02-08", 77.7), ("2023-02-09", 78.2),
    ("2023-03-04", 79.5), ("2023-03-06", 78.9), ("2023-03-10", 87.3), ("2023-03-11", 87.9), ("2023-03-12", 84.8), ("2023-03-12", 80.0),
    ("2023-03-15", 78.2),
    ("2023-03-28", 74.3), ("2023-04-04", 73.4), ("2023-04-05", 72.0),
    ("2023-04-09", 79.5), ("2023-04-11", 79.5), ("2023-04-11", 82.3), ("2023-04-13", 78.2), ("2023-04-15", 77.3), ("2023-04-16", 76.1),
    ("2023-04-17", 76.9), ("2023-04-18", 80.3), ("2023-04-20", 80.3),
    ("2023-04-26", 78.8), ("2023-04-30", 80.9), ("2023-05-02", 80.6), ("2023-05-03", 80.4),
    ("2023-05-18", 76.8),
    ("2023-08-10", 80.0), ("2023-08-12", 77.5), ("2023-08-13", 75.9), ("2023-08-15", 76.7), ("2023-08-17", 78.7), ("2023-08-18", 77.3),
    ("2023-08-30", 75.3),
    ("2023-09-13", 73.6), ("2023-09-18", 72.0),
    ("2023-10-02", 71.1), ("2023-10-04", 69.2),
    ("2023-11-30", 66.4), ("2023-12-02", 64.2), ("2023-12-04", 72.0), ("2023-12-07", 73.9), ("2023-12-09", 75.3), ("2023-12-11", 77.5),
    ("2023-12-13", 76.7), ("2023-12-15", 74.8),
    ("2023-12-19", 76.7), ("2023-12-22", 75.3), ("2023-12-24", 73.9), ("2023-12-26", 75.9), ("2023-12-28", 74.8), ("2023-12-29", 72.5),
    ("2024-01-02", 75.9),
    ("2024-01-31", 75.9), ("2024-02-02", 77.5), ("2024-02-04", 75.3), ("2024-02-07", 78.7), ("2024-02-08", 76.7), ("2024-02-11", 74.8),
    ("2024-02-12", 75.9),
    ("2024-02-21", 76.7), ("2024-02-25", 74.8), ("2024-02-27", 72.5), ("2024-03-01", 73.9), ("2024-03-04", 72.0), ("2024-03-07", 73.1),
    ("2024-03-09", 72.5),
    ("2024-03-18", 79.5), ("2024-03-22", 67.5), ("2024-03-25", 69.2), ("2024-03-27", 70.3), ("2024-03-30", 71.1), ("2024-04-01", 72.5),
    ("2024-04-04", 73.9), ("2024-04-06", 73.1), ("2024-04-10", 72.5), ("2024-04-17", 70.3),
    ("2024-07-01", 71.4),
    ("2024-08-29", 74.5), ("2024-09-01", 80.0), ("2024-09-04", 77.5),
    ("2024-11-04", 70.8), ("2024-11-06", 68.4), ("2024-11-08", 67.5),
    ("2024-12-05", 63.5), ("2024-12-08", 62.5),
    ("2024-12-19", 66.4), ("2024-12-22", 63.6), ("2024-12-25", 67.5), ("2024-12-27", 65.6), ("2024-12-29", 62.8), ("2024-12-31", 61.4),
    ("2025-01-02", 64.2), ("2025-01-05", 66.4), ("2025-01-07", 65.6), ("2025-01-09", 62.8), ("2025-01-11", 64.8), ("2025-01-13", 68.4),
    ("2025-01-15", 64.2), ("2025-01-18", 62.0), ("2025-01-20", 60.8), ("2025-01-22", 66.4),
]

DCH4_2611EB = [
    ("2022-12-21", 47.75),
    ("2023-01-04", 47.2), ("2023-01-07", 44.9), ("2023-01-08", 44.7), ("2023-01-10", 44.3), ("2023-01-10", 42.8), ("2023-01-13", 45.1),
    ("2023-01-15", 44.4),
    ("2023-01-24", 39.8), ("2023-01-26", 39.4), ("2023-01-28", 39.8), ("2023-01-29", 38.5), ("2023-01-30", 39.2), ("2023-01-31", 40.2),
    ("2023-02-02", 41.5), ("2023-02-02", 41.0), ("2023-02-03", 42.0), ("2023-02-03", 40.4), ("2023-02-05", 40.2), ("2023-02-06", 39.6),
    ("2023-02-07", 39.0), ("2023-02-08", 39.9), ("2023-02-09", 39.4),
    ("2023-03-04", 40.2), ("2023-03-06", 40.0), ("2023-03-10", 45.5), ("2023-03-11", 45.8), ("2023-03-12", 44.1), ("2023-03-11", 41.0),
    ("2023-03-15", 40.7),
    ("2023-03-28", 38.1), ("2023-04-04", 37.9), ("2023-04-05", 38.9),
    ("2023-04-09", 40.4), ("2023-04-11", 41.0), ("2023-04-11", 42.4), ("2023-04-13", 41.7), ("2023-04-15", 43.5), ("2023-04-16", 41.0),
    ("2023-04-17", 42.2), ("2023-04-18", 42.8), ("2023-04-20", 42.4),
    ("2023-04-26", 42.1), ("2023-04-30", 44.1), ("2023-05-02", 43.5), ("2023-05-03", 43.8),
    ("2023-05-18", 43.7),
    ("2023-08-10", 49.0), ("2023-08-12", 50.4), ("2023-08-13", 48.2), ("2023-08-15", 49.4), ("2023-08-17", 49.9), ("2023-08-18", 48.8),
    ("2023-08-30", 47.0),
    ("2023-09-13", 46.5), ("2023-09-18", 45.6),
    ("2023-10-02", 44.8), ("2023-10-04", 43.4),
    ("2023-11-30", 41.0), ("2023-12-02", 40.4), ("2023-12-04", 45.5), ("2023-12-07", 45.6), ("2023-12-09", 46.5), ("2023-12-11", 48.0),
    ("2023-12-13", 45.6), ("2023-12-15", 46.0),
    ("2023-12-19", 45.6), ("2023-12-22", 46.5), ("2023-12-24", 44.8), ("2023-12-26", 46.0), ("2023-12-28", 45.3), ("2023-12-29", 43.9),
    ("2024-01-02", 46.0),
    ("2024-01-31", 46.5), ("2024-02-02", 47.3), ("2024-02-04", 46.0), ("2024-02-07", 48.5), ("2024-02-08", 46.5), ("2024-02-11", 45.6),
    ("2024-02-12", 47.0),
    ("2024-02-21", 47.0), ("2024-02-25", 45.6), ("2024-02-27", 44.0), ("2024-03-01", 43.5), ("2024-03-04", 43.3), ("2024-03-07", 44.0),
    ("2024-03-09", 44.5),
    ("2024-03-18", 48.3), ("2024-03-22", 40.8), ("2024-03-25", 41.5), ("2024-03-27", 42.6), ("2024-03-30", 43.9), ("2024-04-01", 44.8),
    ("2024-04-04", 45.6), ("2024-04-06", 44.8), ("2024-04-10", 45.6), ("2024-04-17", 43.3),
    ("2024-07-01", 46.8),
    ("2024-08-29", 50.6), ("2024-09-01", 54.2), ("2024-09-04", 52.0),
    ("2024-11-04", 48.5), ("2024-11-06", 47.0), ("2024-11-08", 46.3),
    ("2024-12-05", 44.8), ("2024-12-08", 43.9),
    ("2024-12-19", 44.3), ("2024-12-22", 46.0), ("2024-12-25", 47.0), ("2024-12-27", 44.8), ("2024-12-29", 43.1), ("2024-12-31", 45.6),
    ("2025-01-02", 44.8), ("2025-01-05", 46.0), ("2025-01-07", 44.3), ("2025-01-09", 48.8), ("2025-01-11", 45.3), ("2025-01-13", 43.6),
    ("2025-01-15", 47.3), ("2025-01-18", 42.7), ("2025-01-20", 44.3), ("2025-01-22", 41.8),
]

DASHED_DATES = ["2023-11-22", "2024-09-12"]
LEGEND_LABELS = ["TGS 2600", "TGS 2611-C00", "TGS 2611-E00 A", "TGS 2611-E00 B"]
SENSOR_COLORS = ["#0000FF", "#00007F", "#FF0000", "#7F0000"]

# ---------------- helpers ----------------
def d(s):
    return datetime.strptime(s, "%Y-%m-%d")

def unzip(points):
    return [d(p[0]) for p in points], [p[1] for p in points]

W, H = 1153, 1601
fig = plt.figure(figsize=(W / 100, H / 100), dpi=100)

left_px, right_px = 181.5, 1152.0
top0, step, hgt = 25.0, 147.4, 109.0
XMIN, XMAX = datetime(2022, 11, 21, 3), datetime(2025, 2, 9, 22)
GRAY = "#555555"

panels = [
    ("(a)", "Temperature\n(K)", [(TEMP, "black")], (302.7, 315.0), 5, 2.5, "%d"),
    ("(b)", "[H$_2$O]", [(H2O, "black")], (0.00333, 0.02167), 0.005, 0.0025, "%.3f"),
    ("(c)", "[CO]\n(ppm)", [(CO, "black")], (0.065, 0.42), 0.1, 0.05, "%.1f"),
    ("(d)", "$V_S$\n(v)", [(VS, "black")], (4.9795, 5.0058), 0.005, 0.0025, "%.3f"),
    ("(e)", "[CH$_4$]$_r$\n(ppm)", [(CH4R, "black")], (1.965, 2.37), 0.1, 0.05, "%.1f"),
    ("(f)", "$R_r$\n(k\u03a9)", [(R_2600, SENSOR_COLORS[0]), (R_2611C, SENSOR_COLORS[1]),
                                  (R_2611EB, SENSOR_COLORS[3]), (R_2611EA, SENSOR_COLORS[2])],
     (22.5, 74.5), 10, 5, "%d"),
    ("(g)", "\u0394[CH$_4$]$_{0.6}$\n(ppm)", [(DCH4_2600, SENSOR_COLORS[0])], (35.5, 117.0), 20, 10, "%d"),
    ("(h)", "\u0394[CH$_4$]$_{0.5}$\n(ppm)", [(DCH4_2611C, SENSOR_COLORS[1])], (39.7, 72.8), 10, 5, "%d"),
    ("(i)", "\u0394[CH$_4$]$_{0.5}$\n(ppm)", [(DCH4_2611EA, SENSOR_COLORS[2])], (59.5, 88.6), 5, 2.5, "%d"),
    ("(j)", "\u0394[CH$_4$]$_{0.5}$\n(ppm)", [(DCH4_2611EB, SENSOR_COLORS[3])], (36.6, 55.3), 5, 2.5, "%d"),
]

for i, (letter, ylabel, series, ylim, major, minor, fmt) in enumerate(panels):
    top = top0 + i * step
    ax = fig.add_axes([left_px / W, 1 - (top + hgt) / H, (right_px - left_px) / W, hgt / H])
    for pts, col in series:
        xs, ys = unzip(pts)
        ax.scatter(xs, ys, s=(24 if letter == "(f)" else 18), color=col, edgecolors="none", zorder=3)
    for ds in DASHED_DATES:
        ax.axvline(d(ds), color="#444444", lw=1.0, ls=(0, (3, 2.2)), zorder=1)
    ax.set_xlim(XMIN, XMAX)
    ax.set_ylim(*ylim)
    ax.yaxis.set_major_locator(mticker.MultipleLocator(major))
    ax.yaxis.set_minor_locator(mticker.MultipleLocator(minor))
    ax.yaxis.set_major_formatter(mticker.FormatStrFormatter(fmt))
    ax.xaxis.set_major_locator(mdates.MonthLocator())
    ax.xaxis.set_major_formatter(mdates.DateFormatter("%b %Y"))
    for sp in ax.spines.values():
        sp.set_color(GRAY)
        sp.set_linewidth(1.2)
    ax.tick_params(axis="both", which="both", direction="out", color=GRAY, width=1.2, length=5.5,
                   labelsize=16, labelcolor="#1a1a1a")
    ax.tick_params(axis="y", which="both", right=False, pad=5)
    ax.tick_params(axis="x", which="both", top=True, bottom=True, labeltop=False,
                   labelbottom=(i == len(panels) - 1), labelrotation=90, pad=6)
    ax.set_ylabel(ylabel, fontsize=17, linespacing=1.3, color="#1a1a1a", va="center", ha="center")
    ax.yaxis.set_label_coords(-0.087, 0.5)
    fig.text(9 / W, 1 - (top + 10) / H, letter, fontsize=39, fontweight="bold", va="center", ha="left")

# legend row at the bottom (colored dot + colored label)
bullet_x = [75, 285, 555, 845]
text_x = [96, 304, 574, 864]
for bx, tx, lab, col in zip(bullet_x, text_x, LEGEND_LABELS, SENSOR_COLORS):
    fig.add_artist(Line2D([bx / W], [18 / H], marker="o", markersize=7.5, color=col, linestyle="none",
                          transform=fig.transFigure))
    fig.text(tx / W, 0.5 / H, lab, color=col, fontsize=24, ha="left", va="bottom")

fig.savefig("out.png", dpi=100)
